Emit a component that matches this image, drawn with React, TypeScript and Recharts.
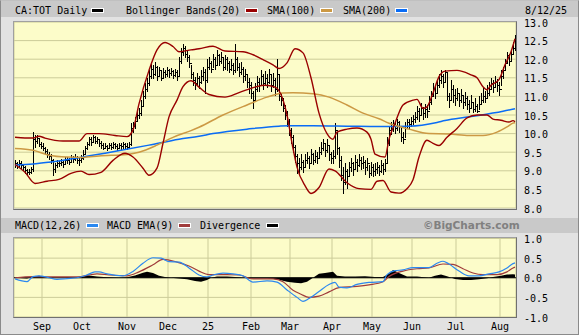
import { ComposedChart, Bar, Line, Area, XAxis, YAxis, CartesianGrid, ReferenceLine } from 'recharts';

// trading-day index positions of the month boundaries, and their labels
const monthTicks = [13.5, 33.5, 56, 76.5, 96.5, 118, 137.5, 158.5, 178.5, 198.5, 220.5, 242.5];
const monthLabels = ['Sep', 'Oct', 'Nov', 'Dec', '25', 'Feb', 'Mar', 'Apr', 'May', 'Jun', 'Jul', 'Aug'];

const priceTicks = [8, 8.5, 9, 9.5, 10, 10.5, 11, 11.5, 12, 12.5, 13];
const macdTicks = [-1, -0.5, 0, 0.5, 1];

// daily bars, Aug 13 2024 -> Aug 12 2025 (one line per month)
const highs = [
  9.28, 9.25, 9.30, 9.26, 9.18, 9.12, 9.05, 9.06, 9.10, 10.05, 9.95, 9.96, 9.88, 9.78,
  9.75, 9.64, 9.58, 9.50, 9.45, 9.32, 9.22, 9.28, 9.27, 9.33, 9.28, 9.36, 9.38, 9.34, 9.42, 9.40, 9.45, 9.40, 9.36, 9.42,
  9.55, 9.66, 9.78, 9.92, 9.90, 9.96, 9.93, 9.92, 9.86, 9.80, 9.74, 9.75, 9.70, 9.76, 9.74, 9.78, 9.76, 9.72, 9.76, 9.74, 9.78, 9.76,
  9.74, 9.78, 10.28, 10.30, 10.45, 10.62, 10.68, 10.90, 11.15, 11.35, 11.50, 11.70, 11.92, 11.85, 11.93, 11.82, 11.80, 11.72, 11.76, 11.72, 11.78,
  11.74, 11.76, 11.70, 11.74, 11.70, 12.05, 12.30, 12.40, 12.35, 12.25, 12.10, 11.85, 11.65, 11.52, 11.62, 11.55, 11.70, 11.80, 11.75, 12.00,
  12.05, 11.95, 12.15, 12.05, 12.25, 12.15, 12.20, 12.05, 12.12, 12.05, 11.95, 12.00, 11.90, 12.42, 12.05, 11.90, 11.92, 11.78, 11.75, 11.60, 11.50, 11.40,
  11.15, 11.35, 11.55, 11.50, 11.70, 11.60, 11.68, 11.60, 11.75, 11.60, 11.62, 11.50, 12.00, 11.60, 11.10, 10.95, 10.78, 10.60, 10.40,
  10.15, 9.95, 9.70, 9.45, 9.35, 9.45, 9.30, 9.45, 9.50, 9.40, 9.58, 9.48, 9.55, 9.50, 9.65, 9.78, 9.85, 9.75, 9.85, 9.70, 9.50,
  9.55, 10.28, 10.05, 9.65, 9.40, 9.10, 9.20, 9.05, 9.25, 9.35, 9.25, 9.42, 9.32, 9.45, 9.38, 9.40, 9.28, 9.35, 9.15, 9.25,
  9.18, 9.20, 9.25, 9.15, 9.28, 9.20, 9.32, 9.90, 10.20, 10.30, 10.36, 10.30, 10.38, 10.34, 10.20, 10.05, 10.30, 10.40, 10.38, 10.45, 10.50,
  10.58, 10.75, 10.68, 10.82, 10.72, 10.80, 10.78, 11.00, 11.15, 11.36, 11.30, 11.45, 11.60, 11.72, 11.60, 11.72, 11.66, 11.10, 11.45, 11.30, 11.20,
  11.23, 11.10, 11.20, 11.05, 11.12, 11.00, 10.90, 11.05, 10.85, 10.95, 10.80, 11.00, 11.10, 11.23, 11.15, 11.30, 11.38, 11.50, 11.45, 11.55, 11.48, 11.40,
  11.70, 11.80, 12.00, 12.20, 12.15, 12.25, 12.45, 12.65,
];

const lows = [
  9.10, 9.08, 9.12, 9.08, 9.02, 8.95, 8.90, 8.92, 8.95, 9.00, 9.65, 9.75, 9.66, 9.60,
  9.55, 9.45, 9.38, 9.33, 9.22, 8.88, 8.98, 9.10, 9.12, 9.15, 9.10, 9.17, 9.22, 9.18, 9.24, 9.25, 9.30, 9.22, 9.16, 9.25,
  9.33, 9.45, 9.58, 9.70, 9.70, 9.78, 9.74, 9.76, 9.68, 9.62, 9.58, 9.60, 9.55, 9.60, 9.58, 9.62, 9.60, 9.56, 9.60, 9.58, 9.62, 9.60,
  9.58, 9.62, 9.70, 10.05, 10.15, 10.35, 10.42, 10.50, 10.75, 10.95, 11.15, 11.30, 11.50, 11.50, 11.58, 11.45, 11.55, 11.45, 11.50, 11.52, 11.56,
  11.52, 11.58, 11.50, 11.55, 11.45, 11.55, 11.90, 12.12, 12.05, 11.95, 11.80, 11.50, 11.30, 11.20, 11.30, 11.22, 11.35, 11.45, 11.10, 11.40,
  11.75, 11.65, 11.80, 11.75, 11.85, 11.85, 11.90, 11.70, 11.75, 11.70, 11.65, 11.70, 11.60, 11.65, 11.70, 11.55, 11.60, 11.40, 11.45, 11.25, 11.10, 10.95,
  10.70, 10.90, 11.15, 11.15, 11.30, 11.20, 11.30, 11.25, 11.35, 11.15, 11.25, 11.05, 11.15, 10.90, 10.78, 10.60, 10.40, 10.20, 9.95,
  9.75, 9.50, 9.25, 8.95, 8.95, 9.05, 8.98, 9.10, 9.20, 9.08, 9.25, 9.18, 9.25, 9.20, 9.35, 9.45, 9.55, 9.40, 9.50, 9.30, 9.20,
  9.20, 9.35, 9.45, 9.10, 8.75, 8.39, 8.65, 8.55, 8.85, 9.00, 8.90, 9.05, 9.00, 9.12, 9.05, 9.08, 8.92, 9.02, 8.82, 8.90,
  8.85, 8.90, 8.95, 8.88, 8.98, 8.92, 9.00, 9.25, 9.70, 10.00, 10.08, 10.02, 10.10, 10.05, 9.80, 9.74, 9.90, 10.15, 10.12, 10.20, 10.25,
  10.32, 10.40, 10.35, 10.50, 10.40, 10.45, 10.45, 10.65, 10.80, 11.00, 10.95, 11.10, 11.25, 11.35, 11.25, 11.40, 10.90, 10.72, 10.90, 10.85, 10.78,
  10.90, 10.75, 10.85, 10.70, 10.78, 10.65, 10.58, 10.70, 10.58, 10.62, 10.58, 10.65, 10.80, 10.85, 10.85, 10.95, 11.05, 11.20, 11.12, 11.25, 11.15, 11.05,
  11.30, 11.50, 11.70, 11.90, 11.85, 11.95, 12.15, 12.25,
];

const closes = [
  9.20, 9.17, 9.22, 9.15, 9.10, 9.02, 8.97, 8.98, 9.05, 9.85, 9.80, 9.88, 9.72, 9.68,
  9.60, 9.52, 9.45, 9.40, 9.30, 9.05, 9.15, 9.20, 9.20, 9.25, 9.18, 9.28, 9.30, 9.25, 9.35, 9.32, 9.38, 9.30, 9.28, 9.35,
  9.45, 9.60, 9.72, 9.85, 9.78, 9.90, 9.80, 9.85, 9.75, 9.70, 9.62, 9.68, 9.60, 9.70, 9.65, 9.72, 9.68, 9.62, 9.70, 9.66, 9.72, 9.68,
  9.65, 9.72, 10.15, 10.20, 10.35, 10.50, 10.55, 10.75, 11.00, 11.20, 11.35, 11.55, 11.75, 11.60, 11.80, 11.55, 11.70, 11.50, 11.65, 11.60, 11.70,
  11.62, 11.68, 11.58, 11.65, 11.55, 11.95, 12.20, 12.30, 12.15, 12.05, 11.90, 11.60, 11.45, 11.35, 11.50, 11.40, 11.55, 11.65, 11.45, 11.80,
  11.90, 11.75, 12.00, 11.85, 12.10, 11.95, 12.05, 11.80, 12.00, 11.90, 11.75, 11.85, 11.70, 12.00, 11.80, 11.65, 11.75, 11.55, 11.60, 11.40, 11.30, 11.10,
  10.90, 11.20, 11.40, 11.30, 11.55, 11.35, 11.50, 11.40, 11.60, 11.30, 11.45, 11.20, 11.60, 11.00, 10.90, 10.70, 10.50, 10.30, 10.10,
  9.90, 9.65, 9.40, 9.20, 9.10, 9.25, 9.10, 9.30, 9.35, 9.20, 9.45, 9.30, 9.40, 9.35, 9.50, 9.60, 9.75, 9.55, 9.70, 9.45, 9.35,
  9.40, 10.10, 9.60, 9.30, 8.90, 8.70, 9.00, 8.85, 9.10, 9.20, 9.05, 9.25, 9.15, 9.30, 9.20, 9.25, 9.10, 9.20, 8.95, 9.10,
  9.00, 9.05, 9.10, 9.00, 9.15, 9.05, 9.20, 9.75, 10.10, 10.20, 10.25, 10.15, 10.30, 10.20, 9.90, 9.85, 10.20, 10.30, 10.25, 10.35, 10.40,
  10.45, 10.60, 10.50, 10.70, 10.55, 10.65, 10.60, 10.85, 11.00, 11.20, 11.10, 11.30, 11.45, 11.55, 11.40, 11.65, 11.00, 10.90, 11.20, 11.05, 10.95,
  11.10, 10.90, 11.05, 10.85, 10.95, 10.80, 10.70, 10.85, 10.65, 10.75, 10.60, 10.80, 10.90, 11.00, 10.95, 11.10, 11.20, 11.35, 11.25, 11.40, 11.30, 11.20,
  11.55, 11.70, 11.90, 12.10, 11.95, 12.15, 12.30, 12.55,
];

// indicator readings [day index, value]
const bollUpper = [
  [0, 9.9], [5, 9.88], [9, 9.88], [12, 9.93], [15, 9.88], [24, 9.8], [32, 9.8], [36, 10.0], [42, 10.0], [50, 9.95],
  [56, 9.92], [59, 10.1], [62, 10.8], [67, 11.7], [71, 12.25], [75, 12.45], [79, 12.34], [82, 12.2], [88, 12.25],
  [92, 12.28], [99, 12.35], [105, 12.22], [114, 12.2], [119, 12.12], [124, 11.99], [129, 11.85], [132, 11.75],
  [136, 11.9], [140, 12.28], [144, 12.17], [148, 11.5], [152, 10.55], [156, 10.0], [159, 9.85], [161, 10.04],
  [166, 10.12], [171, 10.15], [176, 10.04], [178, 9.85], [180, 9.45], [185, 9.37], [187, 9.85], [190, 10.28],
  [194, 10.77], [199, 10.9], [201, 10.92], [204, 10.68], [206, 10.72], [209, 11.09], [212, 11.53], [215, 11.68],
  [221, 11.7], [228, 11.58], [231, 11.5], [234, 11.26], [236, 11.18], [238, 11.3], [242, 11.45], [245, 11.85],
  [248, 12.2], [250, 12.55],
];

const bollLower = [
  [0, 9.17], [5, 8.96], [10, 8.66], [16, 8.72], [22, 8.77], [28, 8.93], [33, 8.99], [37, 8.9], [43, 8.96], [49, 9.28],
  [55, 9.47], [59, 9.37], [64, 9.07], [67, 8.88], [71, 9.07], [74, 9.74], [77, 10.45], [81, 10.9], [84, 11.26],
  [88, 11.42], [92, 11.25], [97, 11.05], [105, 10.98], [112, 11.1], [120, 11.25], [125, 11.3], [130, 11.25],
  [133, 11.05], [136, 10.5], [139, 9.6], [141, 9.1], [145, 8.6], [148, 8.39], [152, 8.55], [157, 9.05], [160, 9.0],
  [166, 8.68], [172, 8.52], [178, 8.5], [181, 8.72], [184, 8.74], [188, 8.43], [192, 8.4], [196, 8.52], [199, 8.76],
  [202, 9.37], [206, 9.82], [209, 9.74], [212, 9.68], [216, 9.9], [221, 10.14], [226, 10.42], [231, 10.5],
  [236, 10.5], [239, 10.39], [243, 10.36], [247, 10.31], [249, 10.35], [250, 10.32],
];

const sma100 = [
  [0, 9.6], [9, 9.55], [17, 9.42], [26, 9.37], [34, 9.36], [42, 9.4], [56, 9.44], [62, 9.5], [71, 9.69], [79, 9.9],
  [88, 10.08], [92, 10.17], [104, 10.5], [116, 10.77], [126, 10.98], [134, 11.09], [139, 11.1], [149, 11.07],
  [157, 10.98], [166, 10.77], [174, 10.55], [182, 10.4], [187, 10.28], [197, 10.12], [207, 10.0], [217, 9.99],
  [227, 9.95], [234, 9.95], [241, 10.04], [246, 10.18], [249, 10.28], [250, 10.3],
];

const sma200 = [
  [0, 9.15], [9, 9.18], [17, 9.23], [34, 9.37], [51, 9.53], [67, 9.69], [82, 9.85], [92, 9.93], [99, 10.0],
  [116, 10.12], [132, 10.2], [137, 10.21], [149, 10.21], [166, 10.2], [182, 10.19], [197, 10.2], [211, 10.3],
  [215, 10.35], [227, 10.45], [244, 10.6], [250, 10.67],
];

const macd = [
  [0, -0.03], [6, -0.1], [9, 0.03], [12, 0.05], [17, 0.0], [21, -0.04], [26, -0.02], [31, 0.0], [36, 0.07], [40, 0.15],
  [42, 0.15], [46, 0.1], [54, 0.05], [59, 0.16], [64, 0.37], [69, 0.51], [73, 0.5], [77, 0.41], [82, 0.4], [87, 0.25],
  [92, 0.07], [96, 0.02], [99, 0.07], [104, 0.12], [109, 0.1], [114, 0.05], [119, -0.11], [126, -0.08], [131, -0.11],
  [136, -0.31], [141, -0.5], [144, -0.6], [147, -0.53], [152, -0.35], [157, -0.17], [160, -0.12], [162, -0.24],
  [166, -0.26], [171, -0.17], [177, -0.12], [184, -0.1], [186, 0.08], [190, 0.18], [194, 0.2], [199, 0.26],
  [207, 0.26], [211, 0.37], [214, 0.42], [217, 0.35], [222, 0.17], [227, 0.05], [232, 0.05], [237, 0.1],
  [242, 0.15], [246, 0.25], [249, 0.36], [250, 0.38],
];

const macdSignal = [
  [0, 0.0], [9, 0.03], [17, 0.02], [31, 0.02], [41, 0.1], [47, 0.07], [56, 0.05], [62, 0.15], [69, 0.33], [74, 0.47],
  [81, 0.4], [87, 0.3], [92, 0.17], [97, 0.08], [106, 0.08], [112, 0.07], [119, -0.03], [129, -0.03], [134, -0.1],
  [139, -0.32], [143, -0.42], [147, -0.5], [152, -0.47], [157, -0.36], [162, -0.25], [171, -0.22], [177, -0.18],
  [184, -0.1], [187, 0.03], [194, 0.17], [201, 0.23], [207, 0.25], [214, 0.35], [219, 0.34], [224, 0.23],
  [229, 0.12], [234, 0.08], [241, 0.08], [246, 0.15], [249, 0.25], [250, 0.27],
];

const divergence = [
  [0, 0], [6, -0.02], [10, 0.04], [12, 0.05], [15, 0.02], [20, 0], [25, 0], [30, 0.01], [34, 0.04], [37, 0.06],
  [41, 0.03], [46, 0.01], [52, 0], [56, 0.01], [60, 0.06], [64, 0.13], [66, 0.15], [69, 0.12], [72, 0.05], [75, 0.02],
  [78, 0], [82, -0.02], [86, -0.04], [90, -0.08], [93, -0.1], [96, -0.06], [98, 0], [101, 0.03], [106, 0.03],
  [110, 0.02], [114, 0], [119, -0.02], [126, -0.02], [131, -0.04], [136, -0.1], [140, -0.13], [143, -0.14],
  [146, -0.1], [149, 0], [152, 0.1], [155, 0.12], [159, 0.15], [161, 0.05], [165, 0.03], [170, 0.03], [175, 0.04],
  [180, 0.02], [184, 0.02], [187, 0.1], [189, 0.2], [192, 0.12], [196, 0.03], [201, 0.03], [207, 0], [210, 0.05],
  [213, 0.08], [216, 0.04], [220, -0.03], [224, -0.06], [228, -0.06], [232, -0.04], [236, -0.01], [239, 0.02],
  [243, 0.05], [246, 0.08], [249, 0.09], [250, 0.08],
];

const priceData = closes.map((close, i) => ({ i, close, high: highs[i], low: lows[i], range: [lows[i], highs[i]] }));
const pts = (rows: number[][]) => rows.map(([i, v]) => ({ i, v }));

const MONO = '"DejaVu Sans Mono", monospace';
const GRID = '#cccc99';
const PLOT_BG = '#fcfcc9';
const BAND = '#c9c9c9';

// eslint-disable-next-line @typescript-eslint/no-explicit-any
const OhlcBar = (props: any) => {
  const { x, y, width, height, payload } = props;
  if (x == null || y == null || !payload) return null;
  const top = Math.min(y, y + height);
  const h = Math.abs(height);
  const cx = Math.round(x + width / 2) + 0.5;
  const span = payload.high - payload.low;
  const cy = Math.round(top + (span > 0 ? ((payload.high - payload.close) / span) * h : 0)) + 0.5;
  return (
    <g shapeRendering="crispEdges">
      <line x1={cx} x2={cx} y1={Math.round(top)} y2={Math.round(top + Math.max(h, 1)) + 1} stroke="#000" strokeWidth={1} />
      <line x1={cx} x2={cx + 2} y1={cy} y2={cy} stroke="#000" strokeWidth={1} />
    </g>
  );
};

// eslint-disable-next-line @typescript-eslint/no-explicit-any
const valueTick = (props: any) => {
  const { x, y, payload } = props;
  return (
    <text x={x + 8} y={y + 1} fontFamily={MONO} fontSize={10} fill="#000" textAnchor="start" dominantBaseline="central">
      {Number(payload.value).toFixed(1)}
    </text>
  );
};

// eslint-disable-next-line @typescript-eslint/no-explicit-any
const monthTick = (props: any) => {
  const { x, y, payload } = props;
  const idx = monthTicks.indexOf(payload.value);
  return (
    <text x={x} y={y + 9} fontFamily={MONO} fontSize={10} fill="#000" textAnchor="middle" dominantBaseline="central">
      {monthLabels[idx] ?? ''}
    </text>
  );
};

const Swatch = ({ left, top, color }: { left: number; top: number; color: string }) => (
  <div
    style={{
      position: 'absolute', left, top, width: 11, height: 3,
      background: color, border: '1px solid #fff',
    }}
  />
);

const Label = ({ left, top, children, style }: { left: number; top: number; children: React.ReactNode; style?: React.CSSProperties }) => (
  <div
    style={{
      position: 'absolute', left, top, fontFamily: MONO, fontSize: 10, lineHeight: '10px',
      color: '#000', whiteSpace: 'nowrap', ...style,
    }}
  >
    {children}
  </div>
);

export default function App() {
  return (
    <div style={{ position: 'absolute', left: 0, top: 0, width: 579, height: 335, background: '#e2e2e2', overflow: 'hidden' }}>
      {/* header legend */}
      <div style={{ position: 'absolute', left: 0, top: 0, width: 579, height: 17, background: BAND }} />
      <Label left={15} top={6}>CA:TOT Daily</Label>
      <Swatch left={91} top={8} color="#000" />
      <Label left={126} top={6}>Bollinger Bands(20)</Label>
      <Swatch left={245} top={8} color="#990000" />
      <Label left={267} top={6}>SMA(100)</Label>
      <Swatch left={320} top={8} color="#cc9944" />
      <Label left={343} top={6}>SMA(200)</Label>
      <Swatch left={395} top={8} color="#0a6cf5" />
      <Label left={525} top={6}>8/12/25</Label>

      {/* price panel */}
      <div style={{ position: 'absolute', left: 0, top: 0 }}>
        <ComposedChart width={579} height={215} data={priceData} margin={{ top: 22, right: 0, bottom: 7, left: 14 }}>
          <CartesianGrid stroke={GRID} fill={PLOT_BG} fillOpacity={1} />
          <XAxis
            dataKey="i" type="number" domain={[-0.5, 250.5]} ticks={monthTicks} interval={0}
            height={0} tick={false} axisLine={false} tickLine={false} allowDataOverflow
          />
          <YAxis
            orientation="right" domain={[8, 13]} ticks={priceTicks} interval={0} width={63}
            tick={valueTick} tickSize={0} tickMargin={0} axisLine={false} tickLine={false} allowDataOverflow
          />
          <Bar dataKey="range" barSize={1} shape={OhlcBar} isAnimationActive={false} />
          <Line data={pts(sma200)} dataKey="v" type="monotone" stroke="#0a6cf5" strokeWidth={1.5} dot={false} isAnimationActive={false} />
          <Line data={pts(sma100)} dataKey="v" type="monotone" stroke="#cc9944" strokeWidth={1.5} dot={false} isAnimationActive={false} />
          <Line data={pts(bollUpper)} dataKey="v" type="monotone" stroke="#990000" strokeWidth={1.4} dot={false} isAnimationActive={false} />
          <Line data={pts(bollLower)} dataKey="v" type="monotone" stroke="#990000" strokeWidth={1.4} dot={false} isAnimationActive={false} />
        </ComposedChart>
      </div>
      <div style={{ position: 'absolute', left: 13, top: 21, width: 504, height: 189, boxSizing: 'border-box', border: '1px solid #a0a0a0', borderRightColor: '#707070', borderBottomColor: '#707070' }} />

      {/* MACD legend */}
      <div style={{ position: 'absolute', left: 0, top: 218, width: 579, height: 15, background: BAND }} />
      <Label left={15} top={221}>MACD(12,26)</Label>
      <Swatch left={86} top={223} color="#2b88f0" />
      <Label left={107} top={221}>MACD EMA(9)</Label>
      <Swatch left={178} top={223} color="#a03c3c" />
      <Label left={200} top={221}>Divergence</Label>
      <Swatch left={266} top={223} color="#000" />
      <Label left={423} top={220} style={{ fontFamily: '"DejaVu Sans", sans-serif', fontWeight: 'bold', fontSize: 10.5, color: '#808080' }}>
        ©BigCharts.com
      </Label>

      {/* MACD panel */}
      <div style={{ position: 'absolute', left: 0, top: 230 }}>
        <ComposedChart width={579} height={105} data={pts(divergence)} margin={{ top: 8.5, right: 0, bottom: 2, left: 14 }}>
          <CartesianGrid stroke={GRID} fill={PLOT_BG} fillOpacity={1} />
          <XAxis
            dataKey="i" type="number" domain={[-0.5, 250.5]} ticks={monthTicks} interval={0}
            height={16} tick={monthTick} tickSize={0} tickMargin={0} axisLine={false} tickLine={false} allowDataOverflow
          />
          <YAxis
            orientation="right" domain={[-1, 1]} ticks={macdTicks} interval={0} width={63}
            tick={valueTick} tickSize={0} tickMargin={0} axisLine={false} tickLine={false} allowDataOverflow
          />
          <Area dataKey="v" type="linear" baseValue={0} fill="#000" fillOpacity={1} stroke="none" isAnimationActive={false} />
          <ReferenceLine y={0} stroke="#000" strokeWidth={1} />
          <Line data={pts(macdSignal)} dataKey="v" type="monotone" stroke="#a03c3c" strokeWidth={1.2} dot={false} isAnimationActive={false} />
          <Line data={pts(macd)} dataKey="v" type="monotone" stroke="#2b88f0" strokeWidth={1.2} dot={false} isAnimationActive={false} />
        </ComposedChart>
      </div>
      <div style={{ position: 'absolute', left: 13, top: 237, width: 504, height: 81, boxSizing: 'border-box', border: '1px solid #a0a0a0', borderRightColor: '#707070', borderBottomColor: '#707070' }} />

      {/* outer frame */}
      <div style={{ position: 'absolute', left: 0, top: 0, width: 579, height: 335, boxSizing: 'border-box', border: '1px solid #8a8a8a', borderTopColor: '#c0c0c0' }} />
    </div>
  );
}
